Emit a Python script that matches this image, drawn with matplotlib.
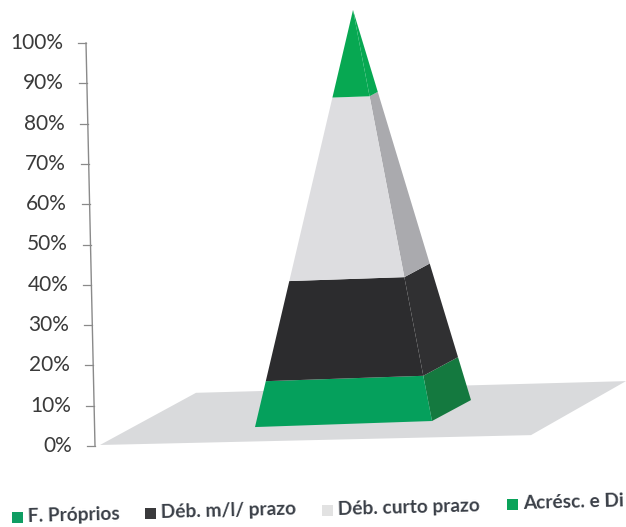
"""
plot.py - pyramid stacked chart (Estrutura de financiamento)
Output: out.png
"""
import matplotlib
matplotlib.use("Agg")
import matplotlib.pyplot as plt
from matplotlib.patches import Polygon

# ─── Data ───────────────────────────────────────────────────────────────────
categorias = ["F. Próprios", "Déb. m/l/ prazo", "Déb. curto prazo", "Acrésc. e Di"]
valores = [11, 24, 44, 21]
tick_valores = list(range(0, 101, 10))
tick_labels = [f"{v}%" for v in tick_valores]

# ─── Style / layout ─────────────────────────────────────────────────────────
W, H = 626, 527
COR_FRENTE = ["#05a05c", "#2c2c2e", "#dddde0", "#07a852"]
COR_LADO = ["#14793f", "#303032", "#aaaaae", "#07a852"]
COR_LEGENDA = ["#0f9d63", "#3a3a3c", "#e2e2e2", "#0aa35a"]
COR_CHAO = "#d9dadc"
COR_EIXO = "#8a8a8a"

# projected corners, x in px, y in axis percent
CHAO = [(100, 0.25), (531, 2.7), (626, 16.1), (196, 13.2)]
BASE_ESQ = (255, 4.7)
BASE_DIR = (432, 6.2)
BASE_FUNDO = (471, 11.4)
TOPO = (353, 108.2)


def aresta(base, t):
    """Point at fraction t on the edge from a base corner to the apex."""
    return (base[0] + (TOPO[0] - base[0]) * t, base[1] + (TOPO[1] - base[1]) * t)


def eixo_x(v):
    """The scanned axis leans: x of the axis line at value v."""
    return 95 - 9 * v / 100


def main():
    plt.rcParams["font.family"] = ["Lato", "DejaVu Sans"]
    fig = plt.figure(figsize=(W / 100, H / 100), dpi=100)
    ax = fig.add_axes([0, 1 - 446 / H, 1, 403 / H])
    ax.set_xlim(0, W)
    ax.set_ylim(0, 100)
    ax.axis("off")

    # axis by hand because of the lean
    ax.plot([eixo_x(0), eixo_x(100)], [0, 100], color=COR_EIXO, lw=1.0, clip_on=False)
    for v, lab in zip(tick_valores, tick_labels):
        ax.plot([eixo_x(v) - 8, eixo_x(v)], [v, v], color=COR_EIXO, lw=0.9, clip_on=False)
        ax.text(eixo_x(v) - 23, v, lab, fontsize=15, color="#3a3a3a", ha="right", va="center")

    ax.add_patch(Polygon(CHAO, closed=True, fc=COR_CHAO, ec="none", clip_on=False, zorder=1))

    # pyramid, stacked from the values
    total = sum(valores)
    acum = 0
    for i, v in enumerate(valores):
        t0 = acum / total
        acum += v
        t1 = acum / total
        frente = [aresta(BASE_ESQ, t0), aresta(BASE_DIR, t0), aresta(BASE_DIR, t1), aresta(BASE_ESQ, t1)]
        lado = [aresta(BASE_DIR, t0), aresta(BASE_FUNDO, t0), aresta(BASE_FUNDO, t1), aresta(BASE_DIR, t1)]
        ax.add_patch(Polygon(lado, closed=True, fc=COR_LADO[i], ec="none", clip_on=False, zorder=2))
        ax.add_patch(Polygon(frente, closed=True, fc=COR_FRENTE[i], ec="none", clip_on=False, zorder=3))

    # legend by hand, the scan is slightly tilted
    pos_x = [12, 145, 322, 507]
    pos_y = [517, 513, 510, 504]
    for nome, cor, px, py in zip(categorias, COR_LEGENDA, pos_x, pos_y):
        fig.patches.append(plt.Rectangle((px / W, 1 - (py + 6) / H), 11 / W, 11 / H, fc=cor, ec="none",
                                         transform=fig.transFigure))
        fig.text((px + 16) / W, 1 - py / H, nome, fontsize=13.8, fontweight="bold", color="#3a3f47",
                 ha="left", va="center", rotation=1.5, rotation_mode="anchor")

    fig.savefig("out.png", dpi=100)
    plt.close(fig)


if __name__ == "__main__":
    main()
